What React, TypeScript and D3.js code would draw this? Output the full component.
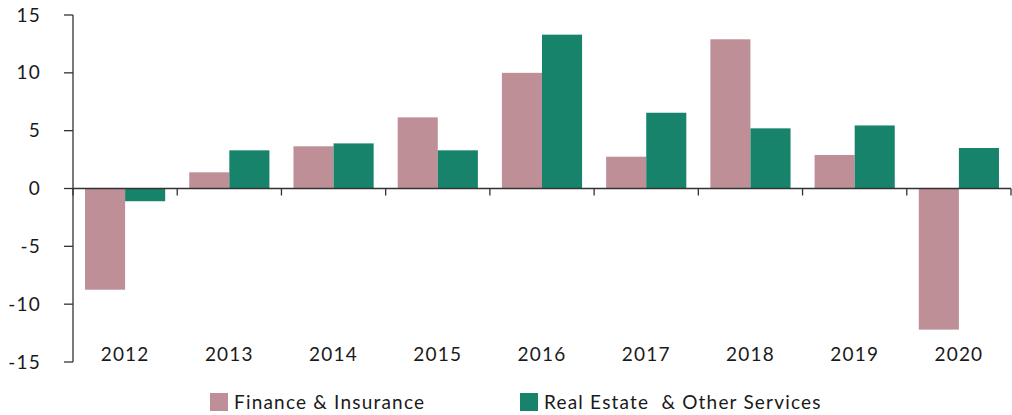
import React from "react";
import * as d3 from "d3";

const years = ["2012","2013","2014","2015","2016","2017","2018","2019","2020"];
const finance = [-8.75, 1.4, 3.65, 6.15, 10.0, 2.75, 12.9, 2.9, -12.2];
const realEstate = [-1.1, 3.3, 3.9, 3.3, 13.3, 6.55, 5.2, 5.45, 3.5];
const yTicks = [15, 10, 5, 0, -5, -10, -15];
const seriesNames = ["Finance & Insurance", "Real Estate  & Other Services"];
const colors = ["#BF8F98", "#17836A"];

export default function App() {
  const W = 1012, H = 415;
  const left = 73, right = 1011, top = 15, bottom = 362;
  const y = d3.scaleLinear().domain([-15, 15]).range([bottom, top]);
  const x = d3.scaleBand().domain(years).range([left, right]).paddingInner(0).paddingOuter(0);
  const inner = d3.scaleBand().domain(["f", "r"]).range([0, x.bandwidth()]).paddingOuter(0.3).paddingInner(0);
  const font = "Lato, 'Open Sans', sans-serif";
  const axisColor = "#333";
  const series = [finance, realEstate];
  const ls = 1.2;
  return (
    <svg width={W} height={H} style={{ position: "absolute", left: 0, top: 0, background: "#fff" }} fontFamily={font}>
      {series.map((vals, si) =>
        vals.map((v, i) => (
          <rect key={si + "-" + i}
            x={(x(years[i]) as number) + (inner(si === 0 ? "f" : "r") as number)}
            y={y(Math.max(0, v))}
            width={inner.bandwidth()}
            height={Math.abs(y(v) - y(0))}
            fill={colors[si]} />
        ))
      )}
      <line x1={left} x2={left} y1={top} y2={bottom} stroke={axisColor} strokeWidth={1.3} />
      {yTicks.map(t => (
        <g key={t}>
          <line x1={left - 9} x2={left} y1={y(t)} y2={y(t)} stroke={axisColor} strokeWidth={1.3} />
          <text x={41} y={y(t)} dy="0.35em" textAnchor="end" fontSize={19} letterSpacing={ls} fill="#1a1a1a">{t}</text>
        </g>
      ))}
      <line x1={left} x2={right} y1={y(0)} y2={y(0)} stroke={axisColor} strokeWidth={1.3} />
      {years.map((yr) => (
        <line key={"t" + yr} x1={x(yr) as number} x2={x(yr) as number} y1={y(0)} y2={y(0) + 7} stroke={axisColor} strokeWidth={1.3} />
      ))}
      <line x1={right} x2={right} y1={y(0)} y2={y(0) + 7} stroke={axisColor} strokeWidth={1.3} />
      {years.map(yr => (
        <text key={"l" + yr} x={(x(yr) as number) + x.bandwidth() / 2} y={361} textAnchor="middle" fontSize={19} letterSpacing={ls} fill="#1a1a1a">{yr}</text>
      ))}
      {seriesNames.map((n, i) => {
        const lx = i === 0 ? 210 : 520;
        return (
          <g key={n}>
            <rect x={lx} y={393} width={18} height={18} fill={colors[i]} />
            <text x={lx + 24} y={409} fontSize={19} letterSpacing={ls} fill="#1a1a1a" style={{ whiteSpace: "pre" }}>{n}</text>
          </g>
        );
      })}
    </svg>
  );
}
